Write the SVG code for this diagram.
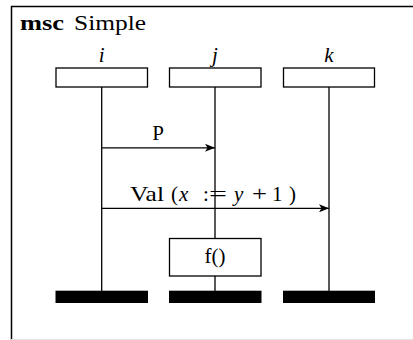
<svg xmlns="http://www.w3.org/2000/svg" width="413" height="340" viewBox="0 0 413 340">
<style>
text{font-family:"Liberation Serif","DejaVu Serif",serif;fill:#000;font-size:21px}
.name{font-style:italic;text-anchor:middle}
.lbl{text-anchor:middle}
.box{fill:#fff;stroke:#000;stroke-width:1.3}
.life{stroke:#000;stroke-width:1.3;fill:none}
.msg{stroke:#000;stroke-width:1.3;fill:none;marker-end:url(#ah)}
.end{fill:#000}
</style>
<defs>
<marker id="ah" markerWidth="10" markerHeight="8" viewBox="0 0 10 8" refX="10" refY="4" orient="auto" markerUnits="userSpaceOnUse">
<path d="M0,0 L10,4 L0,8 L2.5,4 Z" fill="#000"/>
</marker>
</defs>
<rect width="413" height="340" fill="#fff"/>
<g id="frame">
<path d="M11.5,340 L11.5,6.5 L413,6.5" fill="none" stroke="#000" stroke-width="1.5"/>
<line x1="11" y1="339.5" x2="413" y2="339.5" stroke="#e2e2e2" stroke-width="1"/>
<text x="20" y="30" font-weight="bold" textLength="44" lengthAdjust="spacingAndGlyphs">msc</text>
<text x="74" y="30" textLength="72" lengthAdjust="spacingAndGlyphs">Simple</text>
</g>
<g id="connectors">
<line class="life" x1="101.7" y1="87" x2="101.7" y2="291"/>
<line class="life" x1="215" y1="87" x2="215" y2="291"/>
<line class="life" x1="329" y1="87" x2="329" y2="291"/>
<line class="msg" x1="101.7" y1="147.8" x2="215" y2="147.8"/>
<text class="lbl" x="158" y="140" font-size="22">P</text>
<line class="msg" x1="101.7" y1="208.3" x2="329" y2="208.3"/>
<text x="130" y="201" font-size="22"><tspan textLength="34" lengthAdjust="spacingAndGlyphs">Val</tspan><tspan x="171">(</tspan><tspan x="179" font-style="italic">x</tspan><tspan x="203">:</tspan><tspan x="209" textLength="18" lengthAdjust="spacingAndGlyphs">=</tspan><tspan x="234" font-style="italic">y</tspan><tspan x="252" textLength="15" lengthAdjust="spacingAndGlyphs">+</tspan><tspan x="272">1</tspan><tspan x="289">)</tspan></text>
</g>
<g id="inst-i">
<text class="name" x="101.7" y="62">i</text>
<rect class="box" x="56" y="68" width="91.5" height="19"/>
<rect class="end" x="55.5" y="290.7" width="92.5" height="12.3"/>
</g>
<g id="inst-j">
<text class="name" x="215" y="62">j</text>
<rect class="box" x="169.5" y="68" width="91.5" height="19"/>
<rect class="end" x="169" y="290.7" width="92.5" height="12.3"/>
</g>
<g id="inst-k">
<text class="name" x="329" y="62">k</text>
<rect class="box" x="283.5" y="68" width="91" height="19"/>
<rect class="end" x="283" y="290.7" width="92" height="12.3"/>
</g>
<g id="action-f">
<rect class="box" x="169.5" y="238.5" width="91.5" height="37.5"/>
<text class="lbl" x="215" y="263">f()</text>
</g>
</svg>
